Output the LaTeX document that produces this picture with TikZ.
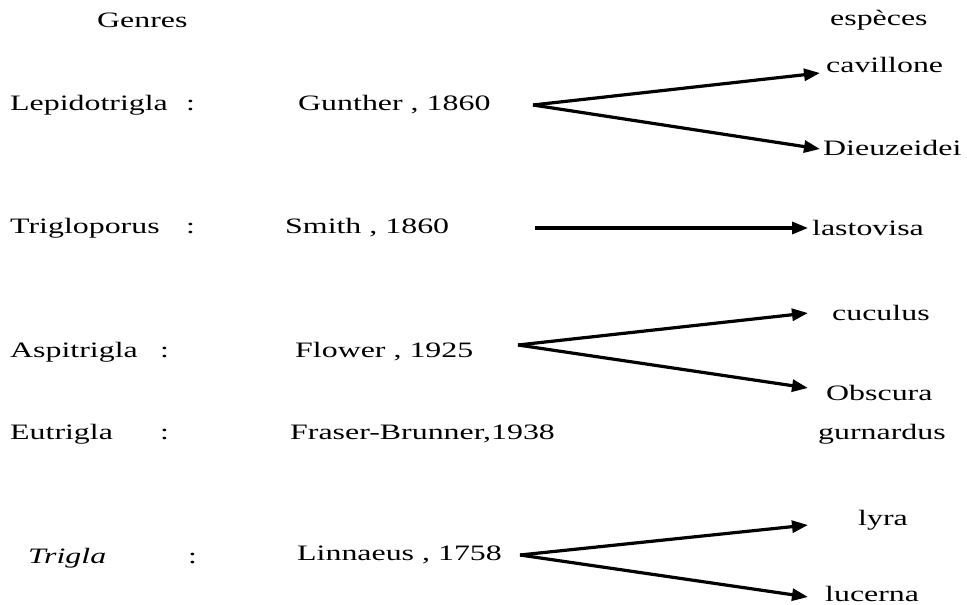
\documentclass[tikz,border=0pt]{standalone}
\usepackage{fontspec}
\setmainfont{Liberation Serif}[FakeStretch=1.45]
\usetikzlibrary{arrows.meta}
\begin{document}
\begin{tikzpicture}[x=1pt,y=-1pt,
  lbl/.style={anchor=west,inner sep=0pt,font=\fontsize{22}{24}\selectfont},
  arr/.style={line width=3.2pt,-{Triangle[length=16pt,width=12pt]}}]
\useasboundingbox (0,0) rectangle (967,605);
% headers
\node[lbl] (genres) at (97,20) {Genres};
\node[lbl] (especes) at (830,20) {espèces};
% row 1
\node[lbl] (lep) at (10,105) {Lepidotrigla};
\node[lbl] (c1) at (186,105) {:};
\node[lbl] (gun) at (298,105) {Gunther , 1860};
\node[lbl] (cav) at (826,65) {cavillone};
\node[lbl] (dieu) at (823,148) {Dieuzeidei};
\coordinate (f1) at (533,105);
\coordinate (t1a) at (820,73);
\coordinate (t1b) at (820,149);
% row 2
\node[lbl] (trigp) at (10,228) {Trigloporus};
\node[lbl] (c2) at (186,228) {:};
\node[lbl] (smith) at (285,228) {Smith , 1860};
\node[lbl] (last) at (812,228) {lastovisa};
\coordinate (f2) at (535,228);
\coordinate (t2) at (808,228);
% row 3
\node[lbl] (asp) at (10,352) {Aspitrigla};
\node[lbl] (c3) at (160,352) {:};
\node[lbl] (flow) at (295,352) {Flower , 1925};
\node[lbl] (cuc) at (832,313) {cuculus};
\node[lbl] (obs) at (826,393) {Obscura};
\coordinate (f3) at (518,345);
\coordinate (t3a) at (808,313);
\coordinate (t3b) at (808,388);
% row 4
\node[lbl] (eut) at (10,434) {Eutrigla};
\node[lbl] (c4) at (160,434) {:};
\node[lbl] (fras) at (290,434) {Fraser-Brunner,1938};
\node[lbl] (gur) at (818,434) {gurnardus};
% row 5
\node[lbl,font=\fontsize{22}{24}\selectfont\itshape] (trig) at (28,558) {Trigla};
\node[lbl] (c5) at (188,558) {:};
\node[lbl] (lin) at (297,555) {Linnaeus , 1758};
\node[lbl] (lyra) at (858,520) {lyra};
\node[lbl] (luc) at (825,594) {lucerna};
\coordinate (f5) at (520,555);
\coordinate (t5a) at (808,525);
\coordinate (t5b) at (808,597);
% arrows
\draw[arr] (f1) -- (t1a);
\draw[arr] (f1) -- (t1b);
\draw[arr] (f2) -- (t2);
\draw[arr] (f3) -- (t3a);
\draw[arr] (f3) -- (t3b);
\draw[arr] (f5) -- (t5a);
\draw[arr] (f5) -- (t5b);
\end{tikzpicture}
\end{document}
